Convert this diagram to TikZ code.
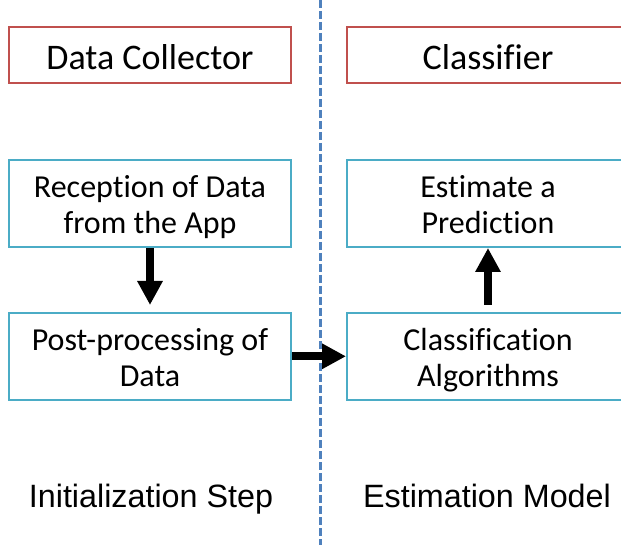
\documentclass[tikz,border=0pt]{standalone}
\usepackage{fontspec}
\setmainfont[Ligatures=NoCommon]{Carlito}
\newfontfamily\arialfont{Liberation Sans}
\usetikzlibrary{arrows.meta}
\definecolor{boxred}{RGB}{192,80,77}
\definecolor{boxcyan}{RGB}{75,172,198}
\definecolor{sepblue}{RGB}{79,129,189}
\newcommand{\topstrut}{\rule{0pt}{33pt}}
\newcommand{\botstrut}{\rule[-9.6pt]{0pt}{9.6pt}}
\begin{document}
\begin{tikzpicture}[x=1pt,y=-1pt,
  redbox/.style={draw=boxred,line width=2pt,minimum width=282pt,minimum height=56pt,inner sep=0pt,
    text height=30pt,text depth=1.4pt,font=\fontsize{36}{40}\selectfont},
  cyanbox/.style={draw=boxcyan,line width=2pt,minimum width=282pt,minimum height=87pt,inner sep=0pt,align=center,font=\fontsize{32}{36}\selectfont},
  bigarrow/.style={line width=8pt,-{Triangle[width=24pt,length=24pt]}},
  steplabel/.style={anchor=base,inner sep=0pt,font=\arialfont\fontsize{32.3}{36}\selectfont}]
\useasboundingbox (0,0) rectangle (621,545);
\draw[sepblue,line width=3pt,dash pattern=on 8pt off 3pt] (320,0) -- (320,545);
\node[redbox] (dc) at (150,55) {Data Collector};
\node[redbox] (cl) at (488,55) {Classifier};
\node[cyanbox] (rec) at (150,203.5) {\topstrut Reception of Data\\from the App\botstrut};
\node[cyanbox] (post) at (150,356.3) {\topstrut Post-processing of\\Data\botstrut};
\node[cyanbox] (est) at (488,203.5) {\topstrut Estimate a\\Prediction\botstrut};
\node[cyanbox] (cla) at (488,356.3) {\topstrut Classification\\Algorithms\botstrut};
\coordinate (downtip) at (150,305);
\coordinate (upstart) at (488,305);
\draw[bigarrow] (rec.south) -- (downtip);
\draw[bigarrow] (upstart) -- (est.south);
\draw[bigarrow] (post.east) -- (cla.west);
\node[steplabel] (init) at (151,507.3) {Initialization Step};
\node[steplabel] (estm) at (487,507.3) {Estimation Model};
\end{tikzpicture}
\end{document}
